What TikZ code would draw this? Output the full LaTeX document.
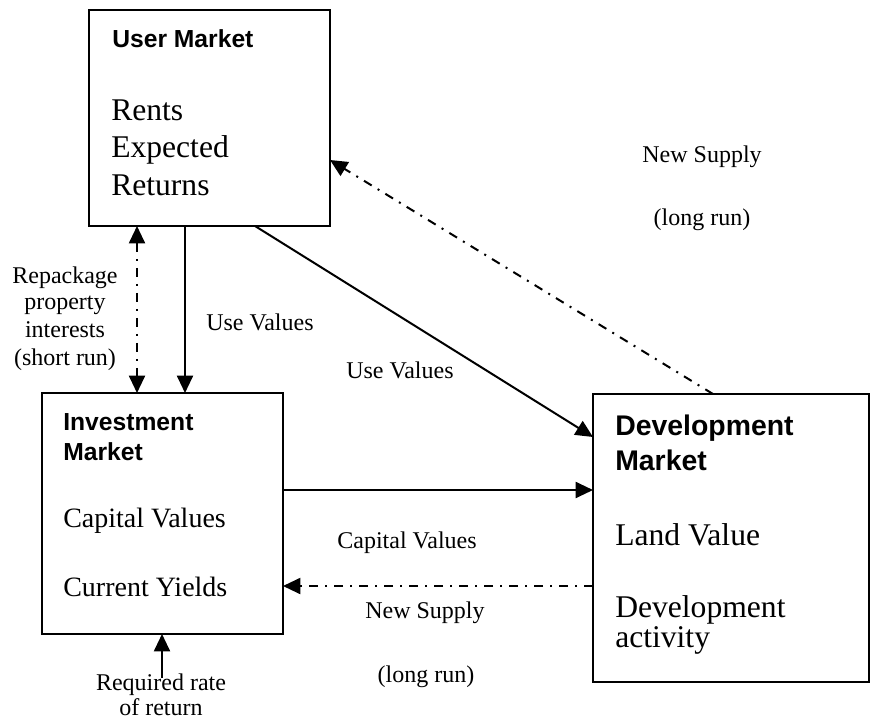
\documentclass[tikz,border=0pt]{standalone}
\usepackage{fontspec}
\setmainfont{Liberation Serif}
\setsansfont{Liberation Sans}
\usetikzlibrary{arrows.meta}
\begin{document}
\begin{tikzpicture}[x=0.75pt,y=-0.75pt,
  box/.style={draw, line width=1.5pt, rectangle, inner sep=0pt, outer sep=0pt, anchor=north west},
  tip/.style={-{Triangle[length=13pt,width=12pt]}},
  conn/.style={line width=1.5pt, tip},
  dd/.style={dash pattern=on 6.75pt off 5.25pt on 1.5pt off 5.25pt},
  title/.style={anchor=base west, inner sep=0pt, font=\sffamily\bfseries\fontsize{18.5}{20}\selectfont},
  dtitle/.style={anchor=base west, inner sep=0pt, font=\sffamily\bfseries\fontsize{21.3}{24}\selectfont},
  body/.style={anchor=base west, inner sep=0pt, font=\fontsize{23.7}{28}\selectfont},
  ibody/.style={anchor=base west, inner sep=0pt, font=\fontsize{21}{25}\selectfont},
  lbl/.style={anchor=base, inner sep=0pt, font=\fontsize{18}{20}\selectfont},
  lblw/.style={anchor=base west, inner sep=0pt, font=\fontsize{18}{20}\selectfont},
]
\useasboundingbox (0,0) rectangle (870,724);

% boxes
\node[box, minimum width=180.75pt, minimum height=162pt] (um) at (89,10) {};
\node[box, minimum width=180.75pt, minimum height=180.75pt] (im) at (42,393) {};
\node[box, minimum width=207pt, minimum height=216pt] (dm) at (593,394) {};

% User Market text
\node[title] (umt) at (112,48) {User Market};
\node[body] (um1) at (111,120) {Rents};
\node[body] (um2) at (111,157) {Expected};
\node[body] (um3) at (111,195) {Returns};

% Investment Market text
\node[title] (imt1) at (63,430) {Investment};
\node[title] (imt2) at (63,460) {Market};
\node[ibody] (im1) at (63,527) {Capital Values};
\node[ibody] (im2) at (63,596) {Current Yields};

% Development Market text
\node[dtitle] (dmt1) at (615,435) {Development};
\node[dtitle] (dmt2) at (615,470) {Market};
\node[body] (dm1) at (615,545) {Land Value};
\node[body] (dm2) at (615,617) {Development};
\node[body] (dm3) at (615,647) {activity};

% labels
\node[lbl] (rp1) at (65,283) {Repackage};
\node[lbl] (rp2) at (65,309) {property};
\node[lbl] (rp3) at (65,337) {interests};
\node[lbl] (rp4) at (65,365) {(short run)};
\node[lblw] (uv1) at (206,330) {Use Values};
\node[lblw] (uv2) at (346,378) {Use Values};
\node[lbl] (ns1) at (702,162) {New Supply};
\node[lbl] (lr1) at (702,225) {(long run)};
\node[lbl] (cv) at (407,548) {Capital Values};
\node[lbl] (ns2) at (425,618) {New Supply};
\node[lbl] (lr2) at (426,682) {(long run)};
\node[lbl] (rq1) at (161,690) {Required rate};
\node[lbl] (rq2) at (161,715) {of return};

% helper coordinates
\coordinate (x137) at (137,0);
\coordinate (x185) at (185,0);
\coordinate (x255) at (255,0);
\coordinate (x713) at (713,0);
\coordinate (y160) at (0,160);
\coordinate (y437) at (0,437);
\coordinate (y490) at (0,490);
\coordinate (y586) at (0,586);
\coordinate (rr) at (162,678);

% connectors
\draw[conn] (um.south -| x185) -- (im.north -| x185);
\draw[line width=1.5pt, dd, {Triangle[length=13pt,width=12pt]}-{Triangle[length=13pt,width=12pt]}] (um.south -| x137) -- (im.north -| x137);
\draw[conn] (um.south -| x255) -- (dm.west |- y437);
\draw[conn, dd] (dm.north -| x713) -- (um.east |- y160);
\draw[conn] (im.east |- y490) -- (dm.west |- y490);
\draw[conn, dd] (dm.west |- y586) -- (im.east |- y586);
\draw[conn] (rr) -- (im.south -| rr);
\end{tikzpicture}
\end{document}
